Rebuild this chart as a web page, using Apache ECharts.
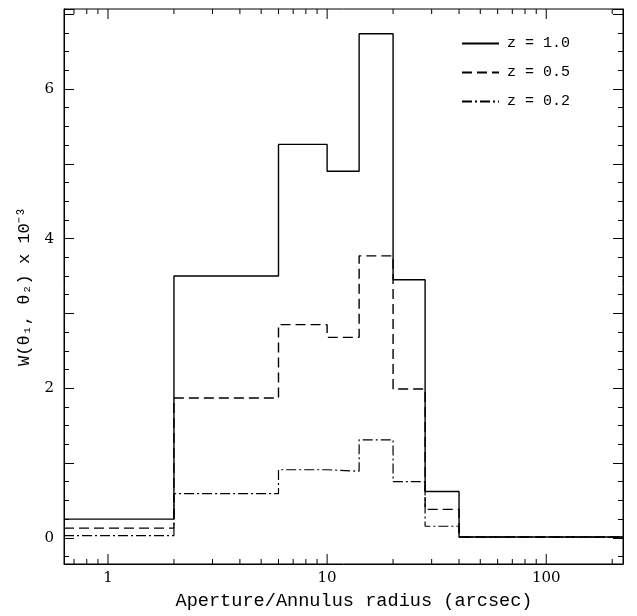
<!DOCTYPE html>
<html>
<head>
<meta charset="utf-8">
<script src="https://cdn.jsdelivr.net/npm/echarts@6/dist/echarts.min.js"></script>
<style>
  html, body { margin: 0; padding: 0; background: #fff; }
  #chart { width: 637px; height: 616px; }
</style>
</head>
<body>
<div id="chart"></div>
<script>
// bin edges in arcsec, one more than the number of bins
var binEdges = [0.63, 2, 6, 10, 14, 20, 28, 40, 224];
// W(theta1, theta2) x 10^-3 per bin
var wZ10 = [0.25, 3.50, 5.26, 4.90, 6.74, 3.45, 0.62, 0.01];
var wZ05 = [0.13, 1.87, 2.85, 2.68, 3.77, 1.99, 0.38, 0.01];
var wZ02 = [0.03, 0.59, 0.91, 0.89, 1.31, 0.75, 0.155, 0.01];
var seriesNames = ["z = 1.0", "z = 0.5", "z = 0.2"];

var xMajorTicks = [1, 10, 100];
var xMinorTicks = [0.7, 0.8, 0.9, 2, 3, 4, 5, 6, 7, 8, 9, 20, 30, 40, 50, 60, 70, 80, 90, 200];
var yLabels = [0, 2, 4, 6];

// histogram outline: one point per left edge, last point at the right edge
function stepPoints(vals) {
  var pts = [];
  for (var i = 0; i < vals.length; i++) {
    pts.push([binEdges[i], vals[i]]);
  }
  pts.push([binEdges[vals.length], vals[vals.length - 1]]);
  return pts;
}

// ticks drawn inward on the bottom and top frame
function tickRenderer(len) {
  return function (params, api) {
    var x = api.coord([api.value(0), 0])[0];
    var cs = params.coordSys;
    var top = cs.y, bottom = cs.y + cs.height;
    return {
      type: "group",
      children: [
        { type: "line", shape: { x1: x, y1: bottom, x2: x, y2: bottom - len }, style: { stroke: "#000", lineWidth: 1 } },
        { type: "line", shape: { x1: x, y1: top, x2: x, y2: top + len }, style: { stroke: "#000", lineWidth: 1 } }
      ]
    };
  };
}

var monoFont = "Liberation Mono";
var numFont = "DejaVu Serif";

function yAxisCommon(pos) {
  return {
    type: "value",
    position: pos,
    min: -0.35,
    max: 7.07,
    axisLine: { show: true, lineStyle: { color: "#000", width: 1 } },
    axisTick: { show: true, inside: true, length: 10, lineStyle: { color: "#000" } },
    minorTick: { show: true, splitNumber: 4, length: 5, lineStyle: { color: "#000" } },
    splitLine: { show: false },
    minorSplitLine: { show: false }
  };
}

var yLeft = yAxisCommon("left");
yLeft.name = "W(θ₁, θ₂) x 10⁻³";
yLeft.nameLocation = "middle";
yLeft.nameGap = 31;
yLeft.nameTextStyle = { fontFamily: monoFont, fontSize: 17, color: "#000" };
yLeft.axisLabel = {
  show: true,
  margin: 10,
  showMinLabel: false,
  showMaxLabel: false,
  fontFamily: numFont,
  fontSize: 15,
  color: "#000",
  formatter: function (v) { return yLabels.indexOf(v) >= 0 ? String(v) : ""; }
};
var yRight = yAxisCommon("right");
yRight.axisLabel = { show: false };

var chart = echarts.init(document.getElementById("chart"));
chart.setOption({
  animation: false,
  backgroundColor: "#fff",
  grid: { left: 64, right: 14, top: 9, bottom: 51, show: true, borderColor: "#000", borderWidth: 1, containLabel: false },
  legend: {
    data: seriesNames,
    orient: "vertical",
    left: 456,
    top: 31,
    itemWidth: 37,
    itemHeight: 12,
    itemGap: 14,
    itemStyle: { color: "rgba(0,0,0,0)", borderColor: "rgba(0,0,0,0)", borderWidth: 0 },
    textStyle: { fontFamily: monoFont, fontSize: 15, color: "#000", padding: [0, 0, 0, 3] }
  },
  xAxis: {
    type: "log",
    logBase: 10,
    min: 0.63,
    max: 224,
    name: "Aperture/Annulus radius (arcsec)",
    nameLocation: "middle",
    nameGap: 28,
    nameTextStyle: { fontFamily: monoFont, fontSize: 18.6, color: "#000", padding: [0, 0, 0, 21] },
    axisLine: { show: true, onZero: false, lineStyle: { color: "#000", width: 1 } },
    axisTick: { show: false },
    splitLine: { show: false },
    axisLabel: {
      margin: 7,
      showMinLabel: false,
      showMaxLabel: false,
      fontFamily: numFont,
      fontSize: 15,
      color: "#000",
      formatter: function (v) {
        var r = Math.round(v * 100) / 100;
        return xMajorTicks.indexOf(r) >= 0 ? String(r) : "";
      }
    }
  },
  yAxis: [yLeft, yRight],
  series: [
    {
      name: seriesNames[0], type: "line", step: "end", symbol: "none",
      data: stepPoints(wZ10),
      lineStyle: { color: "#000", width: 1.4, type: "solid" },
      itemStyle: { color: "#000" }
    },
    {
      name: seriesNames[1], type: "line", step: "end", symbol: "none",
      data: stepPoints(wZ05),
      lineStyle: { color: "#000", width: 1.4, type: [10, 5] },
      itemStyle: { color: "#000" }
    },
    {
      name: seriesNames[2], type: "line", step: "end", symbol: "none",
      data: stepPoints(wZ02),
      lineStyle: { color: "#000", width: 1.2, type: [10, 3, 2, 3] },
      itemStyle: { color: "#000" }
    },
    {
      type: "custom", silent: true, clip: false,
      renderItem: tickRenderer(10),
      data: xMajorTicks.map(function (v) { return [v, 0]; })
    },
    {
      type: "custom", silent: true, clip: false,
      renderItem: tickRenderer(5),
      data: xMinorTicks.map(function (v) { return [v, 0]; })
    }
  ]
});
</script>
</body>
</html>
